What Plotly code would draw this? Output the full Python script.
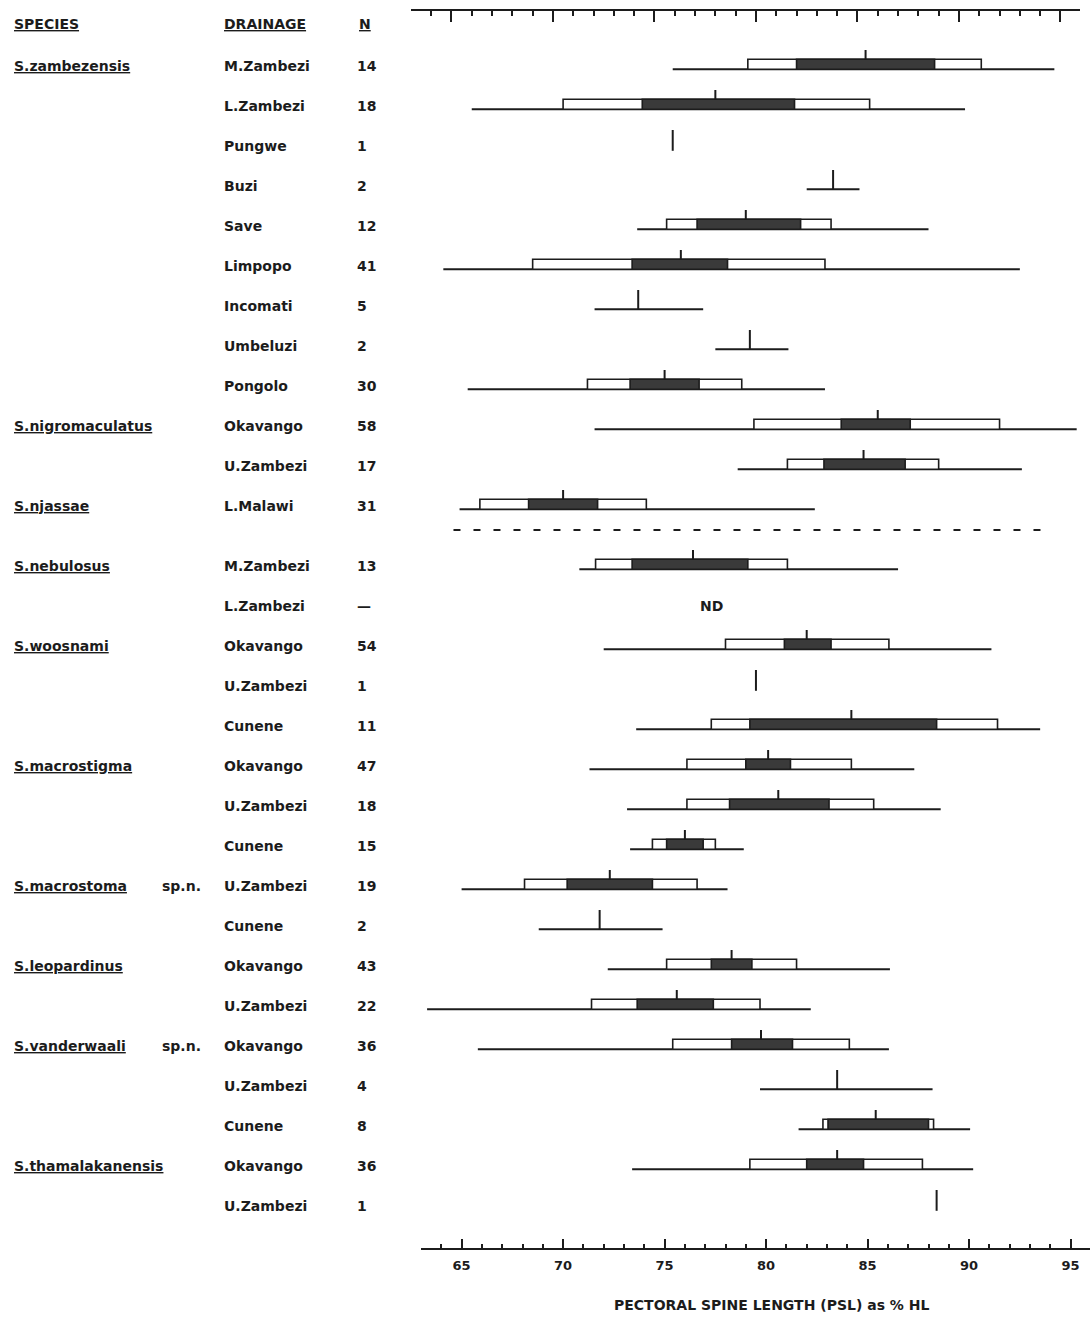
import plotly.graph_objects as go

# ---------------- data ----------------
species = ["S.zambezensis", "", "", "", "", "", "", "", "",
           "S.nigromaculatus", "", "S.njassae",
           "S.nebulosus", "", "S.woosnami", "", "",
           "S.macrostigma", "", "", "S.macrostoma", "",
           "S.leopardinus", "", "S.vanderwaali", "", "",
           "S.thamalakanensis", ""]
species_suffix = ["", "", "", "", "", "", "", "", "",
                  "", "", "",
                  "", "", "", "", "",
                  "", "", "", "sp.n.", "",
                  "", "", "sp.n.", "", "",
                  "", ""]
drainage = ["M.Zambezi", "L.Zambezi", "Pungwe", "Buzi", "Save", "Limpopo",
            "Incomati", "Umbeluzi", "Pongolo", "Okavango", "U.Zambezi", "L.Malawi",
            "M.Zambezi", "L.Zambezi", "Okavango", "U.Zambezi", "Cunene",
            "Okavango", "U.Zambezi", "Cunene", "U.Zambezi", "Cunene",
            "Okavango", "U.Zambezi", "Okavango", "U.Zambezi", "Cunene",
            "Okavango", "U.Zambezi"]
n_spec = ["14", "18", "1", "2", "12", "41", "5", "2", "30", "58", "17", "31",
          "13", "\u2014", "54", "1", "11", "47", "18", "15", "19", "2",
          "43", "22", "36", "4", "8", "36", "1"]

N = None
range_lo = [75.4, 65.5, N, 82.0, 73.65, 64.1, 71.55, 77.5, 65.3, 71.55, 78.6, 64.9,
            70.8, N, 72.0, N, 73.6, 71.3, 73.15, 73.3, 65.0, 68.8,
            72.2, 63.3, 65.8, 79.7, 81.6, 73.4, N]
range_hi = [94.2, 89.8, N, 84.6, 88.0, 92.5, 76.9, 81.1, 82.9, 95.3, 92.6, 82.4,
            86.5, N, 91.1, N, 93.5, 87.3, 88.6, 78.9, 78.1, 74.9,
            86.1, 82.2, 86.05, 88.2, 90.05, 90.2, N]
box_lo = [79.1, 70.0, N, N, 75.1, 68.5, N, N, 71.2, 79.4, 81.05, 65.9,
          71.6, N, 78.0, N, 77.3, 76.1, 76.1, 74.4, 68.1, N,
          75.1, 71.4, 75.4, N, 82.8, 79.2, N]
box_hi = [90.6, 85.1, N, N, 83.2, 82.9, N, N, 78.8, 91.5, 88.5, 74.1,
          81.05, N, 86.05, N, 91.4, 84.2, 85.3, 77.5, 76.6, N,
          81.5, 79.7, 84.1, N, 88.25, 87.7, N]
dark_lo = [81.5, 73.9, N, N, 76.6, 73.4, N, N, 73.3, 83.7, 82.85, 68.3,
           73.4, N, 80.9, N, 79.2, 79.0, 78.2, 75.1, 70.2, N,
           77.3, 73.65, 78.3, N, 83.05, 82.0, N]
dark_hi = [88.3, 81.4, N, N, 81.7, 78.1, N, N, 76.7, 87.1, 86.85, 71.7,
           79.1, N, 83.2, N, 88.4, 81.2, 83.1, 76.9, 74.4, N,
           79.3, 77.4, 81.3, N, 88.0, 84.8, N]
mean = [84.9, 77.5, 75.4, 83.3, 79.0, 75.8, 73.7, 79.2, 75.0, 85.5, 84.8, 70.0,
        76.4, N, 82.0, 79.5, 84.2, 80.1, 80.6, 76.0, 72.3, 71.8,
        78.3, 75.6, 79.75, 83.5, 85.4, 83.5, 88.4]

x_title = "PECTORAL SPINE LENGTH (PSL) as % HL"
nd_label = "ND"

# ---------------- layout helpers ----------------
W, H = 1090, 1317
GROUP_BREAK = 12           # rows from this index sit below the dashed line
pos = [i if i < GROUP_BREAK else i + 0.5 for i in range(len(drainage))]
LINE_OFF = 0.08            # range line slightly below label centre
BOX_TOP = -0.17
TICK_TOP = -0.40
INK = "#1c1c1c"
DARK = "#3a3a3a"
FONT = "DejaVu Sans"
FS = 14

# ---------------- traces ----------------
lx, ly = [], []
wx, wy = [], []
dx, dy = [], []
tx, ty = [], []
for i, p in enumerate(pos):
    yl = p + LINE_OFF
    if range_lo[i] is not None:
        lx += [range_lo[i], range_hi[i], None]
        ly += [yl, yl, None]
    if box_lo[i] is not None:
        wx += [box_lo[i], box_hi[i], box_hi[i], box_lo[i], box_lo[i], None]
        wy += [yl, yl, p + BOX_TOP, p + BOX_TOP, yl, None]
    if dark_lo[i] is not None:
        dx += [dark_lo[i], dark_hi[i], dark_hi[i], dark_lo[i], dark_lo[i], None]
        dy += [yl, yl, p + BOX_TOP, p + BOX_TOP, yl, None]
    if mean[i] is not None:
        if box_lo[i] is not None:
            bottom = p + BOX_TOP
        elif range_lo[i] is not None:
            bottom = yl
        else:
            bottom = p + 0.12
        tx += [mean[i], mean[i], None]
        ty += [bottom, p + TICK_TOP, None]

fig = go.Figure()
fig.add_trace(go.Scatter(x=lx, y=ly, mode="lines", line=dict(color=INK, width=2),
                         hoverinfo="skip", showlegend=False))
fig.add_trace(go.Scatter(x=wx, y=wy, mode="lines", fill="toself", fillcolor="white",
                         line=dict(color=INK, width=1.6), hoverinfo="skip", showlegend=False))
fig.add_trace(go.Scatter(x=dx, y=dy, mode="lines", fill="toself", fillcolor=DARK,
                         line=dict(color=INK, width=1.6), hoverinfo="skip", showlegend=False))
fig.add_trace(go.Scatter(x=tx, y=ty, mode="lines", line=dict(color=INK, width=2),
                         hoverinfo="skip", showlegend=False))
# invisible trace to carry the top ruler axis
fig.add_trace(go.Scatter(x=[70], y=[0], xaxis="x2", yaxis="y", mode="markers",
                         marker=dict(opacity=0), hoverinfo="skip", showlegend=False))

# dashed separator between the two groups
sep_y = (pos[GROUP_BREAK - 1] + pos[GROUP_BREAK]) / 2 - 0.15
fig.add_shape(type="line", xref="x", yref="y", x0=64.6, x1=93.6, y0=sep_y, y1=sep_y,
              line=dict(color=INK, width=2, dash="7px,13px"))

# ---------------- text columns ----------------
ann = []
def txt(x_px, y, s, size=FS, under=False, anchor="left", yref="y"):
    ann.append(dict(x=x_px / W, y=y, xref="paper", yref=yref, text=s, showarrow=False,
                    xanchor=anchor, yanchor="middle",
                    font=dict(family=FONT, size=size, color=INK, weight="bold",
                              lineposition="under" if under else "none")))

head_y = -1.05
txt(12, head_y, "SPECIES", under=True)
txt(222, head_y, "DRAINAGE", under=True)
txt(357, head_y, "N", under=True)
for i, p in enumerate(pos):
    if species[i]:
        txt(12, p, species[i], under=True)
    if species_suffix[i]:
        txt(160, p, species_suffix[i])
    txt(222, p, drainage[i])
    txt(355, p, n_spec[i])
    if mean[i] is None and range_lo[i] is None:
        ann.append(dict(x=77.3, y=p, xref="x", yref="y", text=nd_label, showarrow=False,
                        xanchor="center", yanchor="middle",
                        font=dict(family=FONT, size=FS, color=INK, weight="bold")))

ann.append(dict(x=771 / W, y=-0.046, xref="paper", yref="paper", text=x_title,
                showarrow=False, xanchor="center", yanchor="middle",
                font=dict(family=FONT, size=FS, color=INK, weight="bold")))

# ---------------- axes ----------------
PX_PER_UNIT = 20.3
x_left_px = 461.6 - 2 * PX_PER_UNIT
x_max = 63 + (W - x_left_px) / PX_PER_UNIT
top_left_px = x_left_px - 0.5 * PX_PER_UNIT
top_right_px = top_left_px + (x_max - 63) * PX_PER_UNIT

fig.update_layout(
    width=W, height=H,
    margin=dict(l=0, r=0, t=10, b=69),
    paper_bgcolor="white", plot_bgcolor="rgba(0,0,0,0)",
    showlegend=False,
    annotations=ann,
    xaxis=dict(domain=[x_left_px / W, 1.0], range=[63, x_max], showgrid=False,
               zeroline=False, showline=True, linecolor=INK, linewidth=2,
               ticks="inside", ticklen=9, tickwidth=2, tickcolor=INK,
               tick0=65, dtick=5,
               minor=dict(ticks="inside", ticklen=4, tickwidth=1.5, tickcolor=INK,
                          dtick=1, tick0=65, showgrid=False),
               tickfont=dict(family=FONT, size=13, color=INK, weight="bold"),
               ticklabelstandoff=4, fixedrange=True),
    xaxis2=dict(domain=[top_left_px / W, min(top_right_px / W, 1.0)],
                range=[63, x_max], anchor="free", position=1.0, side="top",
                showgrid=False, zeroline=False, showline=True, linecolor=INK,
                linewidth=2, ticks="inside", ticklen=11, tickwidth=2, tickcolor=INK,
                tick0=65, dtick=5, showticklabels=False,
                minor=dict(ticks="inside", ticklen=5, tickwidth=1.5, tickcolor=INK,
                           dtick=1, tick0=65, showgrid=False),
                fixedrange=True),
    yaxis=dict(domain=[0, 1], range=[29.55, -1.4], visible=False, fixedrange=True),
)

fig.write_html("out.html", config={"displayModeBar": False},
               post_script="document.body.style.margin='0';")
